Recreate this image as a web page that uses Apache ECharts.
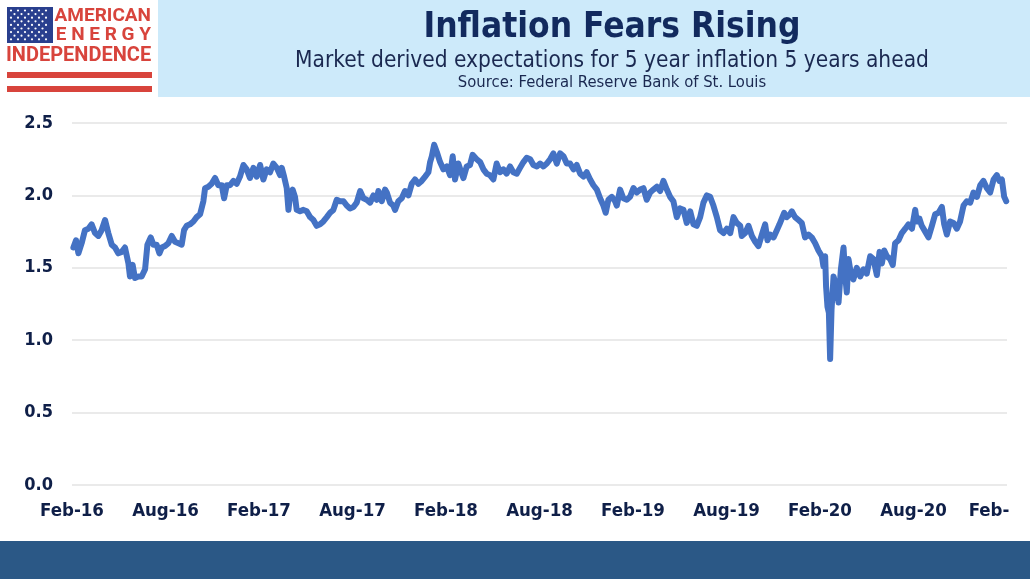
<!DOCTYPE html>
<html lang="en">
    <head>
        <meta charset="UTF-8">
        <title>Inflation Fears Rising</title>
        <style type="text/css">
            html, body {margin: 0px; padding: 0px; background-color: #ffffff;}
        </style>
        <script src="https://cdn.jsdelivr.net/npm/echarts@6/dist/echarts.min.js"></script>
    </head>
    <body>
        <div id="main" style="height: 579px;width: 1030px;"></div>
        <script type="text/javascript">
            // months since Feb 2016
            var months = [
                0.09, 0.26, 0.41, 0.62, 0.83, 1.05, 1.26, 1.48, 1.69, 1.90, 2.12, 2.33, 2.55, 2.76, 2.97, 3.19, 3.40, 3.62, 3.72, 3.89,
                4.04, 4.26, 4.47, 4.69, 4.84, 5.05, 5.22, 5.43, 5.61, 5.76, 5.97, 6.18, 6.40, 6.61, 6.83, 7.04, 7.19, 7.36, 7.57, 7.79,
                8.00, 8.22, 8.43, 8.54, 8.75, 8.96, 9.18, 9.39, 9.61, 9.76, 9.93, 10.14, 10.36, 10.57, 10.78, 11.00, 11.21, 11.42, 11.64, 11.85,
                12.07, 12.28, 12.49, 12.71, 12.92, 13.14, 13.35, 13.46, 13.61, 13.78, 13.89,
                13.99, 14.16, 14.31, 14.42, 14.63, 14.85, 15.06, 15.28, 15.49, 15.70, 15.92, 16.13, 16.35, 16.56, 16.77, 16.99, 17.20, 17.42, 17.63, 17.84,
                18.06, 18.27, 18.49, 18.70, 18.91, 19.13, 19.34, 19.55, 19.66, 19.88, 20.09, 20.20, 20.41, 20.62, 20.73, 20.94, 21.16, 21.37, 21.59, 21.80,
                22.01, 22.23, 22.44, 22.66, 22.87, 22.98, 23.09, 23.24, 23.41, 23.62, 23.83, 24.05, 24.26, 24.43, 24.58, 24.79, 25.01, 25.12, 25.33, 25.54,
                25.71, 25.97, 26.19, 26.40, 26.61, 26.82, 27.04, 27.25, 27.47, 27.68, 27.89, 28.11, 28.32, 28.54,
                28.75, 28.97, 29.18, 29.40, 29.61, 29.83, 30.04, 30.25, 30.47, 30.68, 30.89, 31.11, 31.32, 31.54, 31.75, 31.96, 32.18, 32.39, 32.61, 32.82,
                33.03, 33.25, 33.46, 33.68, 33.89, 34.10, 34.25, 34.42, 34.64, 34.85, 34.96, 35.17, 35.38, 35.60, 35.81, 36.03, 36.24, 36.46, 36.67, 36.88,
                37.10, 37.31, 37.53, 37.74, 37.95, 38.17, 38.38, 38.59, 38.81, 39.02, 39.24, 39.45, 39.67, 39.88, 40.09, 40.31, 40.52, 40.74, 40.95, 41.16,
                41.38, 41.59, 41.81, 42.02, 42.24, 42.45, 42.66, 42.88, 42.98, 43.20, 43.41, 43.63, 43.84, 44.05,
                44.16, 44.33, 44.48, 44.63, 44.80, 45.02, 45.23, 45.40, 45.55, 45.70, 45.87, 46.08, 46.19, 46.40, 46.62, 46.83, 47.04, 47.26, 47.47, 47.69,
                47.90, 48.12, 48.22, 48.33, 48.39, 48.48, 48.57, 48.65, 48.74, 48.87, 49.04, 49.19, 49.34, 49.51, 49.62, 49.72, 49.83, 49.98, 50.14, 50.36,
                50.58, 50.79, 51.00, 51.22, 51.43, 51.65, 51.82, 51.97, 52.12, 52.29, 52.50, 52.67, 52.82, 53.04, 53.25, 53.47, 53.68, 53.90, 54.11, 54.21,
                54.38, 54.53, 54.75, 54.96, 55.18, 55.39, 55.61, 55.82, 55.97, 56.14, 56.35, 56.57, 56.78, 56.99, 57.21, 57.42, 57.64, 57.85, 58.07, 58.28,
                58.49, 58.71, 58.92, 59.14, 59.35, 59.52, 59.67, 59.82, 59.95
            ];
            // 5y5y forward inflation expectation, %
            var expectations = [
                1.64, 1.69, 1.60, 1.67, 1.76, 1.77, 1.80, 1.74, 1.72, 1.76, 1.83, 1.74, 1.66, 1.64, 1.60, 1.61, 1.64, 1.53, 1.44, 1.52,
                1.43, 1.44, 1.44, 1.49, 1.66, 1.71, 1.66, 1.66, 1.60, 1.64, 1.65, 1.67, 1.72, 1.68, 1.67, 1.66, 1.76, 1.79, 1.80, 1.82,
                1.85, 1.87, 1.96, 2.05, 2.06, 2.08, 2.12, 2.07, 2.07, 1.98, 2.07, 2.07, 2.10, 2.08, 2.13, 2.21, 2.18, 2.12, 2.19, 2.13,
                2.21, 2.11, 2.18, 2.16, 2.22, 2.19, 2.14, 2.19, 2.13, 2.05, 1.90,
                2.00, 2.04, 1.99, 1.90, 1.89, 1.90, 1.89, 1.85, 1.83, 1.79, 1.80, 1.82, 1.85, 1.88, 1.90, 1.97, 1.96, 1.96, 1.93, 1.91,
                1.92, 1.95, 2.03, 1.98, 1.97, 1.95, 2.00, 1.97, 2.03, 1.96, 2.04, 2.02, 1.95, 1.93, 1.90, 1.96, 1.98, 2.03, 2.00, 2.08,
                2.11, 2.08, 2.10, 2.13, 2.16, 2.23, 2.27, 2.35, 2.30, 2.23, 2.18, 2.20, 2.14, 2.27, 2.11, 2.22, 2.15, 2.12, 2.20, 2.21,
                2.28, 2.25, 2.23, 2.18, 2.15, 2.14, 2.11, 2.22, 2.16, 2.18, 2.15, 2.20, 2.16, 2.15,
                2.19, 2.23, 2.26, 2.25, 2.21, 2.20, 2.22, 2.20, 2.22, 2.25, 2.29, 2.22, 2.29, 2.27, 2.22, 2.22, 2.18, 2.21, 2.15, 2.13,
                2.16, 2.11, 2.07, 2.04, 1.98, 1.93, 1.88, 1.97, 1.99, 1.96, 1.93, 2.04, 1.98, 1.97, 1.99, 2.05, 2.02, 2.04, 2.05, 1.97,
                2.02, 2.04, 2.06, 2.03, 2.10, 2.04, 1.99, 1.96, 1.85, 1.91, 1.90, 1.81, 1.89, 1.80, 1.79, 1.85, 1.95, 2.00, 1.99, 1.93,
                1.85, 1.76, 1.74, 1.77, 1.74, 1.85, 1.81, 1.79, 1.72, 1.74, 1.79, 1.72, 1.68, 1.65,
                1.66, 1.75, 1.80, 1.69, 1.73, 1.71, 1.76, 1.80, 1.84, 1.88, 1.85, 1.87, 1.89, 1.85, 1.83, 1.81, 1.71, 1.73, 1.71, 1.67,
                1.62, 1.58, 1.51, 1.58, 1.37, 1.23, 1.19, 0.87, 1.21, 1.44, 1.37, 1.26, 1.49, 1.64, 1.44, 1.33, 1.56, 1.46, 1.42, 1.50,
                1.44, 1.49, 1.46, 1.58, 1.56, 1.45, 1.61, 1.53, 1.62, 1.58, 1.56, 1.52, 1.67, 1.69, 1.74, 1.77, 1.80, 1.77, 1.90, 1.82,
                1.84, 1.79, 1.75, 1.71, 1.79, 1.87, 1.88, 1.92, 1.80, 1.73, 1.82, 1.81, 1.77, 1.82, 1.93, 1.96, 1.95, 2.02, 1.99, 2.07,
                2.10, 2.05, 2.02, 2.11, 2.14, 2.10, 2.11, 1.99, 1.96
            ];
            var tickLabels = ['Feb-16', 'Aug-16', 'Feb-17', 'Aug-17', 'Feb-18', 'Aug-18', 'Feb-19', 'Aug-19', 'Feb-20', 'Aug-20', 'Feb-'];

            var navy = '#0f1f48';
            var red = '#d8443c';

            var points = [];
            for (var i = 0; i < months.length; i++) {
                points.push([months[i], expectations[i]]);
            }

            // flag stars
            var stars = [];
            for (var r = 0; r < 9; r++) {
                var n = (r % 2 == 0) ? 6 : 5;
                var off = (r % 2 == 0) ? 11 : 14.5;
                for (var c = 0; c < n; c++) {
                    stars.push({
                        type: 'circle',
                        shape: {cx: off + c * 7, cy: 10.5 + r * 3.6, r: 1.1},
                        style: {fill: '#ffffff'}
                    });
                }
            }

            var graphics = [
                {type: 'rect', shape: {x: 158, y: 0, width: 872, height: 97}, style: {fill: '#cdeafa'}},
                {type: 'rect', shape: {x: 0, y: 541, width: 1030, height: 38}, style: {fill: '#2b5886'}},
                {type: 'rect', shape: {x: 7, y: 7, width: 46, height: 36}, style: {fill: '#293f8e'}},
                {type: 'rect', shape: {x: 7, y: 72, width: 145, height: 6}, style: {fill: red}},
                {type: 'rect', shape: {x: 7, y: 86, width: 145, height: 6}, style: {fill: red}},
                {type: 'text', style: {x: 151, y: 26, text: 'AMERICAN', fill: red, font: 'bold 19px Roboto', align: 'right', verticalAlign: 'bottom'}},
                {type: 'text', style: {x: 151, y: 45, text: 'E N E R G Y', fill: red, font: 'bold 19px Roboto', align: 'right', verticalAlign: 'bottom'}},
                {type: 'text', style: {x: 6, y: 66, text: 'INDEPENDENCE', fill: red, font: 'bold 20px Roboto', align: 'left', verticalAlign: 'bottom'}},
                {type: 'text', style: {x: 612, y: 28, text: 'Inflation Fears Rising', fill: '#122a5e', font: 'bold 35px "DejaVu Sans Condensed"', align: 'center', verticalAlign: 'middle'}},
                {type: 'text', style: {x: 612, y: 61, text: 'Market derived expectations for 5 year inflation 5 years ahead', fill: '#1a2850', font: '22.5px "DejaVu Sans Condensed"', align: 'center', verticalAlign: 'middle'}},
                {type: 'text', style: {x: 612, y: 83, text: 'Source: Federal Reserve Bank of St. Louis', fill: '#1a2850', font: '16.5px "DejaVu Sans Condensed"', align: 'center', verticalAlign: 'middle'}}
            ].concat(stars);

            var myChart = echarts.init(document.getElementById('main'));
            var option = {
                backgroundColor: '#ffffff',
                animation: false,
                graphic: graphics,
                grid: {left: 72, right: 23, top: 123, bottom: 94, containLabel: false},
                xAxis: {
                    type: 'value',
                    min: 0,
                    max: 60,
                    interval: 6,
                    axisLine: {show: false},
                    axisTick: {show: false},
                    splitLine: {show: false},
                    axisLabel: {
                        margin: 17,
                        color: navy,
                        fontFamily: 'DejaVu Sans Condensed',
                        fontWeight: 'bold',
                        fontSize: 18.5,
                        showMaxLabel: true,
                        formatter: function (v) {
                            var idx = Math.round(v / 6);
                            if (idx == tickLabels.length - 1) {
                                return '{last|' + tickLabels[idx] + '}';
                            }
                            return tickLabels[idx];
                        },
                        rich: {
                            last: {padding: [0, 36, 0, 0], color: navy, fontFamily: 'DejaVu Sans Condensed', fontWeight: 'bold', fontSize: 18.5}
                        }
                    }
                },
                yAxis: {
                    type: 'value',
                    min: 0,
                    max: 2.5,
                    interval: 0.5,
                    axisLine: {show: false},
                    axisTick: {show: false},
                    splitLine: {lineStyle: {color: '#e3e3e3', width: 1.5}},
                    axisLabel: {
                        margin: 19,
                        color: navy,
                        fontFamily: 'DejaVu Sans Condensed',
                        fontWeight: 'bold',
                        fontSize: 18,
                        formatter: function (v) { return v.toFixed(1); }
                    }
                },
                series: [{
                    type: 'line',
                    data: points,
                    showSymbol: false,
                    lineStyle: {color: '#4472c4', width: 6, join: 'round', cap: 'round'},
                    itemStyle: {color: '#4472c4'}
                }]
            };
            myChart.setOption(option);
        </script>
    </body>
</html>
